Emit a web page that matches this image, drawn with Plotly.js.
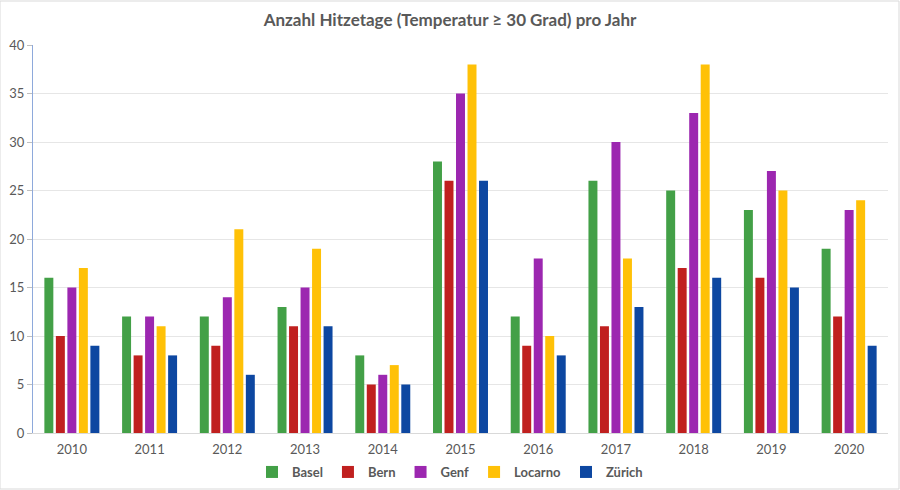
<!DOCTYPE html>
<html><head><meta charset="utf-8">
<script src="https://cdn.plot.ly/plotly-3.0.1.min.js"></script>
<style>html,body{margin:0;padding:0;background:#fff;}#chart{width:900px;height:490px;}</style>
</head><body><div id="chart"></div>
<script>
const years = ['2010','2011','2012','2013','2014','2015','2016','2017','2018','2019','2020'];
const basel   = [16,12,12,13,8,28,12,26,25,23,19];
const bern    = [10,8,9,11,5,26,9,11,17,16,12];
const genf    = [15,12,14,15,6,35,18,30,33,27,23];
const locarno = [17,11,21,19,7,38,10,18,38,25,24];
const zuerich = [9,8,6,11,5,26,8,13,16,15,9];
const seriesNames = ['Basel','Bern','Genf','Locarno','Zürich'];
const seriesColors = ['#43A047','#C0201F','#9C27B0','#FFC107','#0D47A1'];
const seriesData = [basel, bern, genf, locarno, zuerich];
const yTicks = [0,5,10,15,20,25,30,35,40];

const traces = seriesData.map((d,i)=>({
  type:'bar', name:seriesNames[i], x:years, y:d,
  marker:{color:seriesColors[i]}, hoverinfo:'x+y+name'
}));

const layout = {
  width:900, height:490,
  paper_bgcolor:'#fff', plot_bgcolor:'#fff',
  font:{family:'Lato, "Open Sans", sans-serif', color:'#595959', size:13},
  title:{text:'<b>Anzahl Hitzetage (Temperatur ≥ 30 Grad) pro Jahr</b>', x:0.5, xanchor:'center', yref:'container', y:1-20/490, yanchor:'middle', font:{size:17, color:'#595959', family:'Lato, sans-serif'}},
  margin:{l:33, r:12, t:45, b:57, autoexpand:false},
  barmode:'group', bargap:0.26, bargroupgap:0.22,
  xaxis:{type:'category', showline:true, linecolor:'#d9d9d9', linewidth:1, ticks:'', ticklabelstandoff:4, tickfont:{size:13, color:'#595959'}, showgrid:false},
  yaxis:{range:[0,40], tickvals:yTicks, showgrid:true, gridcolor:'#e6e6e6', gridwidth:1, zeroline:false,
         showline:true, linecolor:'#8EA9DB', linewidth:1, ticks:'outside', ticklen:5, tickcolor:'#bfbfbf', tickfont:{size:13, color:'#595959'}},
  legend:{orientation:'h', x:0.5, xref:'container', xanchor:'center', yref:'container', y:1-472/490, yanchor:'middle',
          font:{size:13, color:'#595959', weight:'bold'}, itemwidth:30, traceorder:'normal', tracegroupgap:0},
  shapes:[{type:'rect', xref:'paper', yref:'paper', x0:-33/855, x1:1+11/855, y0:-56/388, y1:1+44/388, line:{color:'#d9d9d9', width:1}}],
  showlegend:true
};
Plotly.newPlot('chart', traces, layout, {displayModeBar:false, staticPlot:true});
</script></body></html>
